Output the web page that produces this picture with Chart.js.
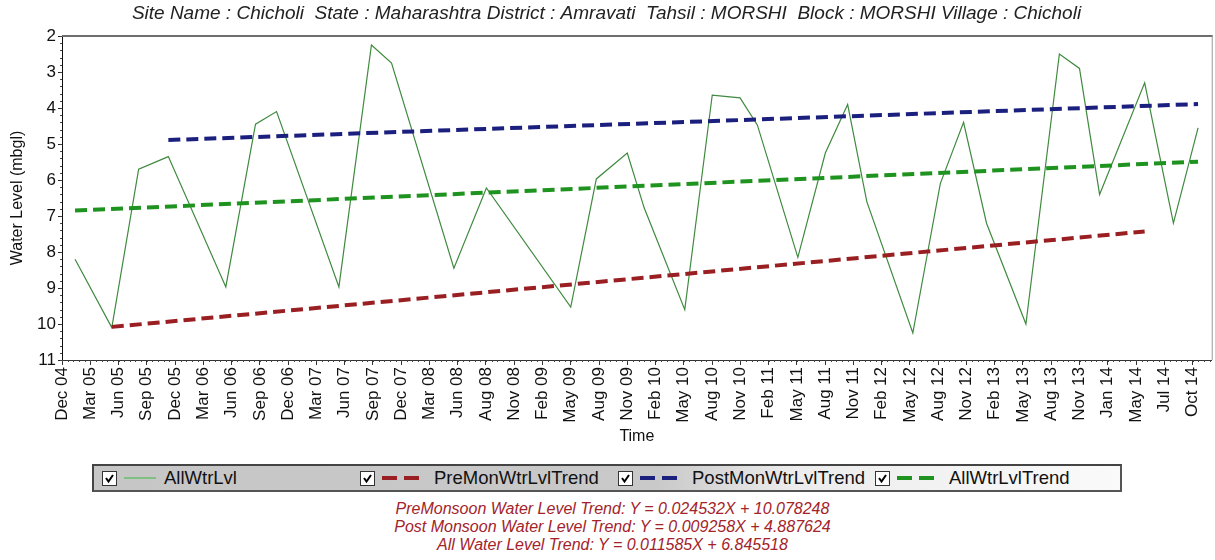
<!DOCTYPE html>
<html>
<head>
<meta charset="utf-8">
<script src="https://cdn.jsdelivr.net/npm/chart.js"></script>
<style>
  html, body { margin: 0; padding: 0; background: #fff; }
  body { width: 1215px; height: 560px; position: relative; overflow: hidden; font-family: 'Liberation Sans', Arial, sans-serif; }
  #wrap { position: absolute; left: 0; top: 0; width: 1215px; height: 450px; }
  #legend { position: absolute; left: 92px; top: 464px; width: 1026px; height: 24px;
    border: 2px solid #555; border-top-color: #444; border-left-color: #444;
    background: linear-gradient(to right, #c6c6c6 0%, #c9c9c9 55%, #ececec 68%, #fafafa 100%); }
  .item { position: absolute; top: 0; height: 24px; font-size: 18.5px; line-height: 24px; color: #111; white-space: nowrap; }
  .chk { position: absolute; top: 5px; width: 13px; height: 13px; background: #fff; border: 1px solid #333; }
  .chk svg { position: absolute; left: 1px; top: 1px; }
  .smp { position: absolute; top: 10px; }
  .txt { position: absolute; top: 0; }
  #eq { position: absolute; left: 0; top: 500px; width: 1225px; text-align: center;
    font-style: italic; font-size: 16px; line-height: 18px; color: #a3232a; }
</style>
</head>
<body>
<div id="wrap"><canvas id="chart_wl"></canvas></div>
<div id="legend"></div>
<div id="eq"></div>
<script>
// tick labels along the time axis (evenly spaced)
const timeLabels = ['Dec 04','Mar 05','Jun 05','Sep 05','Dec 05','Mar 06','Jun 06','Sep 06','Dec 06','Mar 07',
  'Jun 07','Sep 07','Dec 07','Mar 08','Jun 08','Aug 08','Nov 08','Feb 09','May 09','Aug 09',
  'Nov 09','Feb 10','May 10','Aug 10','Nov 10','Feb 11','May 11','Aug 11','Nov 11','Feb 12',
  'May 12','Aug 12','Nov 12','Feb 13','May 13','Aug 13','Nov 13','Jan 14','May 14','Jul 14','Oct 14'];
const labelStep = 2.95; // months between tick labels

// observed water levels (mbgl)
const obsDates = ['2005-01-26','2005-05-21','2005-08-15','2005-11-18','2006-05-18','2006-08-21','2006-10-27',
  '2007-05-12','2007-08-24','2007-10-27','2008-05-12','2008-08-24','2009-05-18','2009-08-08','2009-11-15',
  '2010-01-08','2010-05-15','2010-08-11','2010-11-08','2011-01-02','2011-05-09','2011-08-05','2011-10-15',
  '2011-12-15','2012-05-09','2012-08-05','2012-10-18','2012-12-30','2013-05-03','2013-08-18','2013-10-21',
  '2013-12-24','2014-05-15','2014-08-15','2014-11-02'];
const obsLevels = [8.2,10.1,5.7,5.35,8.97,4.45,4.1,8.97,2.25,2.75,
  8.45,6.22,9.53,5.97,5.25,6.78,9.6,3.64,3.72,4.47,
  8.15,5.25,3.9,6.6,10.25,6.1,4.4,7.2,10.0,2.5,
  2.9,6.4,3.3,7.2,4.55];

// trend lines (end points)
const preTrendDates = ['2005-05-21','2014-05-15'];
const preTrendLevels = [10.08, 7.43];
const postTrendDates = ['2005-11-18','2014-11-02'];
const postTrendLevels = [4.89, 3.89];
const allTrendDates = ['2005-01-26','2014-11-02'];
const allTrendLevels = [6.85, 5.49];

const titleText = 'Site Name : Chicholi  State : Maharashtra District : Amravati  Tahsil : MORSHI  Block : MORSHI Village : Chicholi';
const eqLines = ['PreMonsoon Water Level Trend: Y = 0.024532X + 10.078248',
  'Post Monsoon Water Level Trend: Y = 0.009258X + 4.887624',
  'All Water Level Trend: Y = 0.011585X + 6.845518'];

// months from mid Dec 2004
function toMonth(s) {
  const p = s.split('-').map(Number);
  return (p[0] - 2004) * 12 + (p[1] - 12) + (p[2] - 15) / 30.4;
}
function pts(dates, vals) {
  return dates.map((d, i) => ({x: toMonth(d), y: vals[i]}));
}

const FONT = "'Liberation Sans', Arial, sans-serif";
const dash = [12, 6];

const axisDecor = {
  id: 'axisDecor',
  afterDraw(chart) {
    const {ctx, chartArea: a, scales: {x, y}} = chart;
    ctx.save();
    // frame top / right
    ctx.strokeStyle = '#6e6e6e';
    ctx.lineWidth = 2;
    ctx.beginPath(); ctx.moveTo(a.left, a.top); ctx.lineTo(a.right + 1, a.top); ctx.stroke();
    ctx.strokeStyle = '#9a9a9a';
    ctx.lineWidth = 1;
    ctx.beginPath(); ctx.moveTo(a.right + 0.5, a.top); ctx.lineTo(a.right + 0.5, a.bottom); ctx.stroke();
    // minor ticks
    ctx.strokeStyle = '#444';
    for (let v = 2; v <= 11.001; v += 0.2) {
      const py = Math.round(y.getPixelForValue(v)) + 0.5;
      ctx.beginPath(); ctx.moveTo(a.left - 2, py); ctx.lineTo(a.left, py); ctx.stroke();
    }
    for (let m = 0; m <= x.max; m += labelStep / 5) {
      const px = Math.round(x.getPixelForValue(m)) + 0.5;
      ctx.beginPath(); ctx.moveTo(px, a.bottom); ctx.lineTo(px, a.bottom + 2); ctx.stroke();
    }
    ctx.restore();
  }
};

new Chart(document.getElementById('chart_wl'), {
  type: 'line',
  data: {
    datasets: [
      { label: 'AllWtrLvl', data: pts(obsDates, obsLevels), borderColor: '#3f8a3f', borderWidth: 1.2, order: 4 },
      { label: 'PreMonWtrLvlTrend', data: pts(preTrendDates, preTrendLevels), borderColor: '#9a1f22', borderWidth: 4, borderDash: dash, order: 1 },
      { label: 'PostMonWtrLvlTrend', data: pts(postTrendDates, postTrendLevels), borderColor: '#1b1f7e', borderWidth: 4, borderDash: dash, order: 2 },
      { label: 'AllWtrLvlTrend', data: pts(allTrendDates, allTrendLevels), borderColor: '#1f931f', borderWidth: 4, borderDash: dash, order: 3 }
    ]
  },
  options: {
    responsive: true,
    maintainAspectRatio: false,
    animation: false,
    devicePixelRatio: 1,
    layout: { padding: { left: 0, right: 2, top: 0, bottom: 0 } },
    elements: { point: { radius: 0 }, line: { tension: 0, fill: false } },
    plugins: {
      legend: { display: false },
      tooltip: { enabled: false },
      title: {
        display: true, text: titleText, color: '#222',
        font: { family: FONT, size: 19, style: 'italic', weight: 'normal' },
        padding: { top: 2, bottom: 11.2 }
      }
    },
    scales: {
      x: {
        type: 'linear', min: 0, max: 120,
        afterFit: s => { s.height = 90; },
        afterBuildTicks: s => { s.ticks = timeLabels.map((_, i) => ({ value: i * labelStep })); },
        ticks: {
          autoSkip: false, minRotation: 90, maxRotation: 90, padding: 2, color: '#111',
          font: { family: FONT, size: 17 },
          callback: (v, i) => timeLabels[i]
        },
        grid: { drawOnChartArea: false, tickLength: 5, color: '#333' },
        border: { display: true, color: '#333', width: 1 },
        title: { display: true, text: 'Time', color: '#111', font: { family: FONT, size: 16 }, padding: { top: 0, bottom: 4 } }
      },
      y: {
        reverse: true, min: 2, max: 11,
        afterFit: s => { s.width = 62; },
        ticks: { stepSize: 1, padding: 2, color: '#111', font: { family: FONT, size: 17 } },
        grid: { drawOnChartArea: false, tickLength: 4, color: '#222' },
        border: { display: true, color: '#111', width: 1 },
        title: { display: true, text: 'Water Level (mbgl)', color: '#111', font: { family: FONT, size: 16 }, padding: { top: 8, bottom: 0 } }
      }
    }
  },
  plugins: [axisDecor]
});

// legend box
const legendItems = [
  { text: 'AllWtrLvl', color: '#7fbf7f', dashed: false, left: 8 },
  { text: 'PreMonWtrLvlTrend', color: '#9a1f22', dashed: true, left: 266 },
  { text: 'PostMonWtrLvlTrend', color: '#1b1f7e', dashed: true, left: 524 },
  { text: 'AllWtrLvlTrend', color: '#1f931f', dashed: true, left: 781 }
];
const legend = document.getElementById('legend');
legendItems.forEach(it => {
  const d = document.createElement('div');
  d.className = 'item';
  d.style.left = it.left + 'px';
  const sample = it.dashed
    ? `<svg class="smp" style="left:22px;top:9px" width="42" height="6"><line x1="0" y1="3" x2="42" y2="3" stroke="${it.color}" stroke-width="4" stroke-dasharray="15,7"/></svg>`
    : `<svg class="smp" style="left:22px;top:10px" width="32" height="4"><line x1="0" y1="2" x2="32" y2="2" stroke="${it.color}" stroke-width="2"/></svg>`;
  d.innerHTML = `<span class="chk"><svg width="11" height="11"><polyline points="2,5 4.5,8.5 9,2" fill="none" stroke="#000" stroke-width="2"/></svg></span>` +
    sample + `<span class="txt" style="left:${it.dashed ? 74 : 62}px">${it.text}</span>`;
  legend.appendChild(d);
});

document.getElementById('eq').innerHTML = eqLines.join('<br>');
</script>
</body>
</html>
